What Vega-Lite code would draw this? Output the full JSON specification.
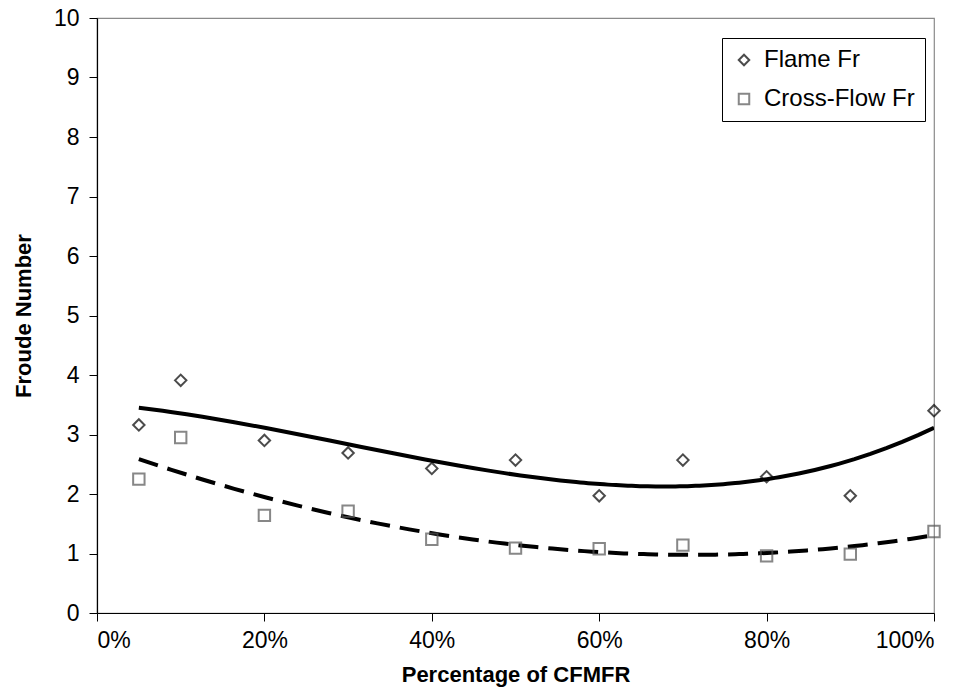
{
  "$schema": "https://vega.github.io/schema/vega-lite/v6.json",
  "width": 837,
  "height": 595,
  "autosize": {"type": "none"},
  "padding": {"left": 97, "top": 18, "right": 37, "bottom": 82},
  "background": "white",
  "config": {
    "font": "Liberation Sans",
    "view": {"stroke": "#8a8a8a", "strokeWidth": 1.2},
    "axis": {"grid": false, "domainColor": "black", "tickColor": "black", "labelColor": "black", "titleColor": "black", "labelFont": "Liberation Sans", "titleFont": "Liberation Sans", "labelFontSize": 23, "titleFontSize": 22, "titleFontWeight": "bold", "tickSize": 8, "domainWidth": 1.2}
  },
  "data": {
    "values": [
      {"pct": 0.05, "fr": 3.16, "series": "Flame Fr"},
      {"pct": 0.10, "fr": 3.91, "series": "Flame Fr"},
      {"pct": 0.20, "fr": 2.90, "series": "Flame Fr"},
      {"pct": 0.30, "fr": 2.69, "series": "Flame Fr"},
      {"pct": 0.40, "fr": 2.43, "series": "Flame Fr"},
      {"pct": 0.50, "fr": 2.57, "series": "Flame Fr"},
      {"pct": 0.60, "fr": 1.97, "series": "Flame Fr"},
      {"pct": 0.70, "fr": 2.57, "series": "Flame Fr"},
      {"pct": 0.80, "fr": 2.29, "series": "Flame Fr"},
      {"pct": 0.90, "fr": 1.97, "series": "Flame Fr"},
      {"pct": 1.00, "fr": 3.40, "series": "Flame Fr"},
      {"pct": 0.05, "fr": 2.25, "series": "Cross-Flow Fr"},
      {"pct": 0.10, "fr": 2.95, "series": "Cross-Flow Fr"},
      {"pct": 0.20, "fr": 1.64, "series": "Cross-Flow Fr"},
      {"pct": 0.30, "fr": 1.71, "series": "Cross-Flow Fr"},
      {"pct": 0.40, "fr": 1.24, "series": "Cross-Flow Fr"},
      {"pct": 0.50, "fr": 1.09, "series": "Cross-Flow Fr"},
      {"pct": 0.60, "fr": 1.08, "series": "Cross-Flow Fr"},
      {"pct": 0.70, "fr": 1.14, "series": "Cross-Flow Fr"},
      {"pct": 0.80, "fr": 0.96, "series": "Cross-Flow Fr"},
      {"pct": 0.90, "fr": 0.99, "series": "Cross-Flow Fr"},
      {"pct": 1.00, "fr": 1.37, "series": "Cross-Flow Fr"}
    ]
  },
  "encoding": {
    "x": {
      "field": "pct", "type": "quantitative",
      "scale": {"domain": [0, 1], "nice": false, "zero": false},
      "axis": {
        "values": [0, 0.2, 0.4, 0.6, 0.8, 1],
        "format": "~%",
        "title": "Percentage of CFMFR",
        "labelPadding": 8, "titlePadding": 12
      }
    },
    "y": {
      "field": "fr", "type": "quantitative",
      "scale": {"domain": [0, 10], "nice": false},
      "axis": {
        "values": [0, 1, 2, 3, 4, 5, 6, 7, 8, 9, 10],
        "format": "d",
        "title": "Froude Number",
        "labelPadding": 10, "titlePadding": 18
      }
    }
  },
  "layer": [
    {
      "transform": [
        {"filter": "datum.series === 'Flame Fr'"},
        {"regression": "fr", "on": "pct", "method": "poly", "order": 3, "extent": [0.05, 1]}
      ],
      "mark": {"type": "line", "color": "black", "strokeWidth": 4, "clip": true}
    },
    {
      "transform": [
        {"filter": "datum.series === 'Cross-Flow Fr'"},
        {"regression": "fr", "on": "pct", "method": "poly", "order": 3, "extent": [0.05, 1]}
      ],
      "mark": {"type": "line", "color": "black", "strokeWidth": 4, "strokeDash": [20, 10], "clip": true}
    },
    {
      "mark": {"type": "point", "filled": false, "size": 130, "strokeWidth": 2},
      "encoding": {
        "shape": {
          "field": "series", "type": "nominal",
          "scale": {"domain": ["Flame Fr", "Cross-Flow Fr"], "range": ["diamond", "square"]},
          "legend": {
            "title": null,
            "orient": "none",
            "legendX": 625,
            "legendY": 20,
            "strokeColor": "black",
            "fillColor": "white",
            "padding": 10,
            "labelFontSize": 24,
            "labelFont": "Liberation Sans",
            "labelColor": "black",
            "symbolSize": 110,
            "symbolStrokeWidth": 2,
            "rowPadding": 15,
            "labelOffset": 8
          }
        },
        "color": {
          "field": "series", "type": "nominal",
          "scale": {"domain": ["Flame Fr", "Cross-Flow Fr"], "range": ["black", "#555555"]},
          "legend": {
            "title": null,
            "orient": "none",
            "legendX": 625,
            "legendY": 20,
            "strokeColor": "black",
            "fillColor": "white",
            "padding": 10,
            "labelFontSize": 24,
            "labelFont": "Liberation Sans",
            "labelColor": "black",
            "symbolSize": 110,
            "symbolStrokeWidth": 2,
            "rowPadding": 15,
            "labelOffset": 8
          }
        }
      }
    }
  ]
}
